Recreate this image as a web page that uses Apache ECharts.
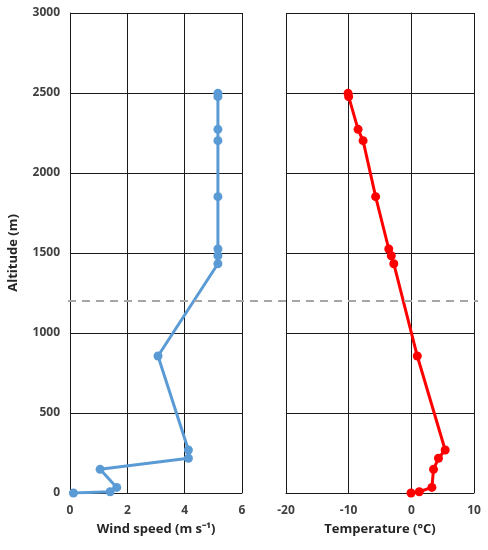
<!DOCTYPE html>
<html><head><meta charset="utf-8">
<script src="https://cdn.jsdelivr.net/npm/echarts@6/dist/echarts.min.js"></script>
<style>html,body{margin:0;padding:0;background:#fff}#c{width:488px;height:550px}</style>
</head><body><div id="c"></div>
<script>
const altitude = [0, 8, 35, 148, 217, 269, 856, 1433, 1483, 1525, 1852, 2202, 2273, 2477, 2498];
const windSpeed = [0.12, 1.40, 1.63, 1.05, 4.13, 4.13, 3.07, 5.16, 5.16, 5.16, 5.16, 5.16, 5.16, 5.16, 5.16];
const temperature = [-0.05, 1.27, 3.28, 3.54, 4.33, 5.4, 0.95, -2.8, -3.2, -3.6, -5.7, -7.7, -8.5, -10.0, -10.1];
const boundaryAltitude = 1200;

const chart = echarts.init(document.getElementById('c'));
const font = 'Open Sans';
const lbl = {color:'#404040', fontWeight:'bold', fontSize:12, fontFamily:font};
const nameStyle = {color:'#262626', fontWeight:'bold', fontSize:13, fontFamily:font};
const split = {show:true, lineStyle:{color:'#1a1a1a', width:1}};
const axLine = {show:true, lineStyle:{color:'#1a1a1a', width:1}};

chart.setOption({
  animation:false,
  grid:[
    {left:70, width:172, top:13, height:480},
    {left:286, width:188, top:13, height:480},
    {left:68, right:10, top:13, height:480}
  ],
  xAxis:[
    {gridIndex:0, type:'value', min:0, max:6, interval:2, axisLabel:Object.assign({margin:12}, lbl),
     axisLine:axLine, axisTick:{show:false}, splitLine:split,
     name:'Wind speed (m s⁻¹)', nameLocation:'middle', nameGap:30, nameTextStyle:nameStyle},
    {gridIndex:1, type:'value', min:-20, max:10, interval:10, axisLabel:Object.assign({margin:12}, lbl),
     axisLine:axLine, axisTick:{show:false}, splitLine:split,
     name:'Temperature (°C)', nameLocation:'middle', nameGap:30, nameTextStyle:nameStyle},
    {gridIndex:2, type:'value', min:0, max:1, show:false}
  ],
  yAxis:[
    {gridIndex:0, type:'value', min:0, max:3000, interval:500,
     axisLabel:Object.assign({margin:10, formatter:(v)=>String(v)}, lbl),
     axisLine:axLine, axisTick:{show:false}, splitLine:split,
     name:'Altitude (m)', nameLocation:'middle', nameGap:50, nameTextStyle:nameStyle},
    {gridIndex:1, type:'value', min:0, max:3000, interval:500, axisLabel:{show:false},
     axisLine:axLine, axisTick:{show:false}, splitLine:split},
    {gridIndex:2, type:'value', min:0, max:3000, show:false}
  ],
  series:[
    {type:'line', xAxisIndex:0, yAxisIndex:0, data:windSpeed.map((v,i)=>[v, altitude[i]]),
     color:'#5B9BD5', lineStyle:{width:3}, symbol:'circle', symbolSize:9, itemStyle:{color:'#5B9BD5'}},
    {type:'line', xAxisIndex:1, yAxisIndex:1, data:temperature.map((v,i)=>[v, altitude[i]]),
     color:'#FF0000', lineStyle:{width:3}, symbol:'circle', symbolSize:9, itemStyle:{color:'#FF0000'}},
    {type:'line', xAxisIndex:2, yAxisIndex:2, data:[], 
     markLine:{silent:true, symbol:'none', label:{show:false},
       lineStyle:{color:'#a6a6a6', type:[8,6], width:2},
       data:[{yAxis:boundaryAltitude}]}}
  ]
});
</script></body></html>
